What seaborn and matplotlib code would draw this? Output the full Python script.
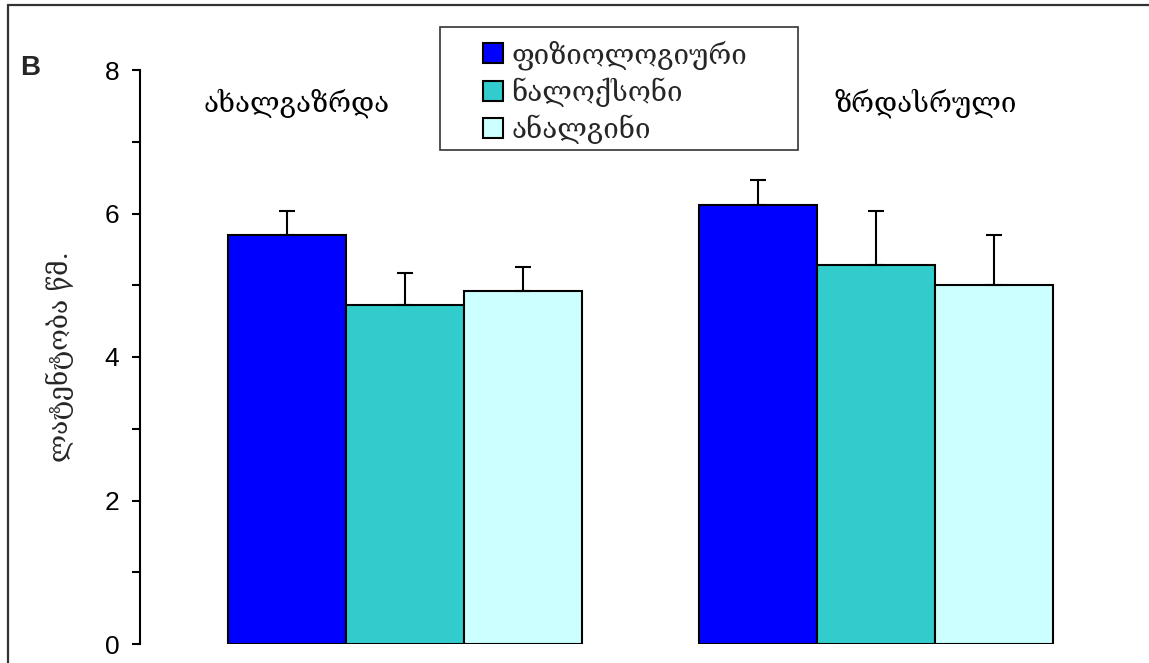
import matplotlib
matplotlib.use("Agg")
import matplotlib.pyplot as plt
from matplotlib.lines import Line2D
from matplotlib.patches import Patch, Rectangle
from matplotlib.ticker import MultipleLocator
import numpy as np
import pandas as pd
import seaborn as sns

# Data
groups = ["ახალგაზრდა", "ზრდასრული"]
conditions = ["ფიზიოლოგიური", "ნალოქსონი", "ანალგინი"]
means_young = [5.70, 4.72, 4.92]
means_adult = [6.12, 5.28, 5.00]
sem_young = [0.33, 0.45, 0.33]
sem_adult = [0.35, 0.75, 0.70]
ytick_vals = [0, 2, 4, 6, 8]
ylabel = "ლატენტობა წმ."
panel_letter = "B"

colors = ["#0000FF", "#33CCCC", "#CCFFFF"]
geo_font = ["DejaVu Serif", "DejaVu Sans"]

df = pd.DataFrame({
    "group": [groups[0]] * 3 + [groups[1]] * 3,
    "condition": conditions * 2,
    "value": means_young + means_adult,
    "sem": sem_young + sem_adult,
})

sns.set_style("ticks")
plt.rcParams["font.family"] = ["Liberation Sans", "DejaVu Sans"]

W, H = 1149, 663
fig = plt.figure(figsize=(W / 100, H / 100), dpi=100)
ax_left, ax_right, ax_bottom, ax_top = 140, 1142, 644, 70
ax = fig.add_axes([ax_left / W, 1 - ax_bottom / H,
                   (ax_right - ax_left) / W, (ax_bottom - ax_top) / H])

sns.barplot(data=df, x="group", y="value", hue="condition",
            hue_order=conditions, order=groups, palette=colors,
            width=0.75, gap=0, errorbar=None, edgecolor="black",
            linewidth=1.5, saturation=1, legend=False, ax=ax)

# one-sided SEM whiskers placed on the drawn bars
bars = sorted([p for p in ax.patches if p.get_width() > 0],
              key=lambda p: p.get_x())
order_df = df.set_index(["group", "condition"])
keys = [(g, c) for g in groups for c in conditions]
for bar, key in zip(bars, keys):
    xc = bar.get_x() + bar.get_width() / 2
    yv = bar.get_height()
    err = order_df.loc[key, "sem"]
    ax.errorbar([xc], [yv], yerr=[[0], [err]], fmt="none", ecolor="black",
                elinewidth=1.5, capsize=6, capthick=1.5, zorder=1)

ax.set_ylim(0, 8)
ax.set_xlim(-0.5626, 1.5648)
ax.set_yticks(ytick_vals)
ax.yaxis.set_minor_locator(MultipleLocator(1))
ax.tick_params(axis="y", which="both", length=6, width=1.5, direction="out",
               labelsize=19, pad=9, colors="black")
ax.set_xticks([])
ax.set_xlabel("")
ax.set_ylabel("")
for s in ["top", "right", "bottom"]:
    ax.spines[s].set_visible(False)
ax.spines["left"].set_linewidth(1.5)
ax.spines["left"].set_color("black")

# group names above the bars
label_x = [-0.23, 1.106]
for gx, name in zip(label_x, groups):
    ax.text(gx, 7.53, name, ha="center", va="center", fontsize=20,
            family=geo_font, color="black")

fig.text(60 / W, 1 - 357 / H, ylabel, rotation=90, ha="center",
         va="center", fontsize=19, family=geo_font)
fig.text(30 / W, 1 - 68 / H, panel_letter, ha="center", va="center",
         fontsize=20, fontweight="bold")

# legend with its own frame
handles = [Patch(facecolor=c, edgecolor="black", linewidth=1.5) for c in colors]
fig.patches.append(Rectangle((440 / W, 1 - 150 / H), (798 - 440) / W,
                             (150 - 27) / H, transform=fig.transFigure,
                             facecolor="white", edgecolor="#333333",
                             linewidth=1.2, zorder=5))
leg = fig.legend(handles, conditions, loc="center left",
                 bbox_to_anchor=(483 / W, 1 - 92 / H),
                 bbox_transform=fig.transFigure, frameon=False,
                 borderpad=0, borderaxespad=0, handlelength=0.72,
                 handleheight=0.72, handletextpad=0.3, labelspacing=0.28,
                 prop={"family": geo_font, "size": 20})
leg.set_zorder(6)

# outer frame lines
fig.add_artist(Line2D([8 / W, 8 / W], [0, 1 - 5 / H], transform=fig.transFigure,
                      color="#333333", linewidth=1.6))
fig.add_artist(Line2D([8 / W, 1], [1 - 5 / H, 1 - 5 / H],
                      transform=fig.transFigure, color="#333333",
                      linewidth=1.6))

fig.savefig("out.png", dpi=100, facecolor="white")
